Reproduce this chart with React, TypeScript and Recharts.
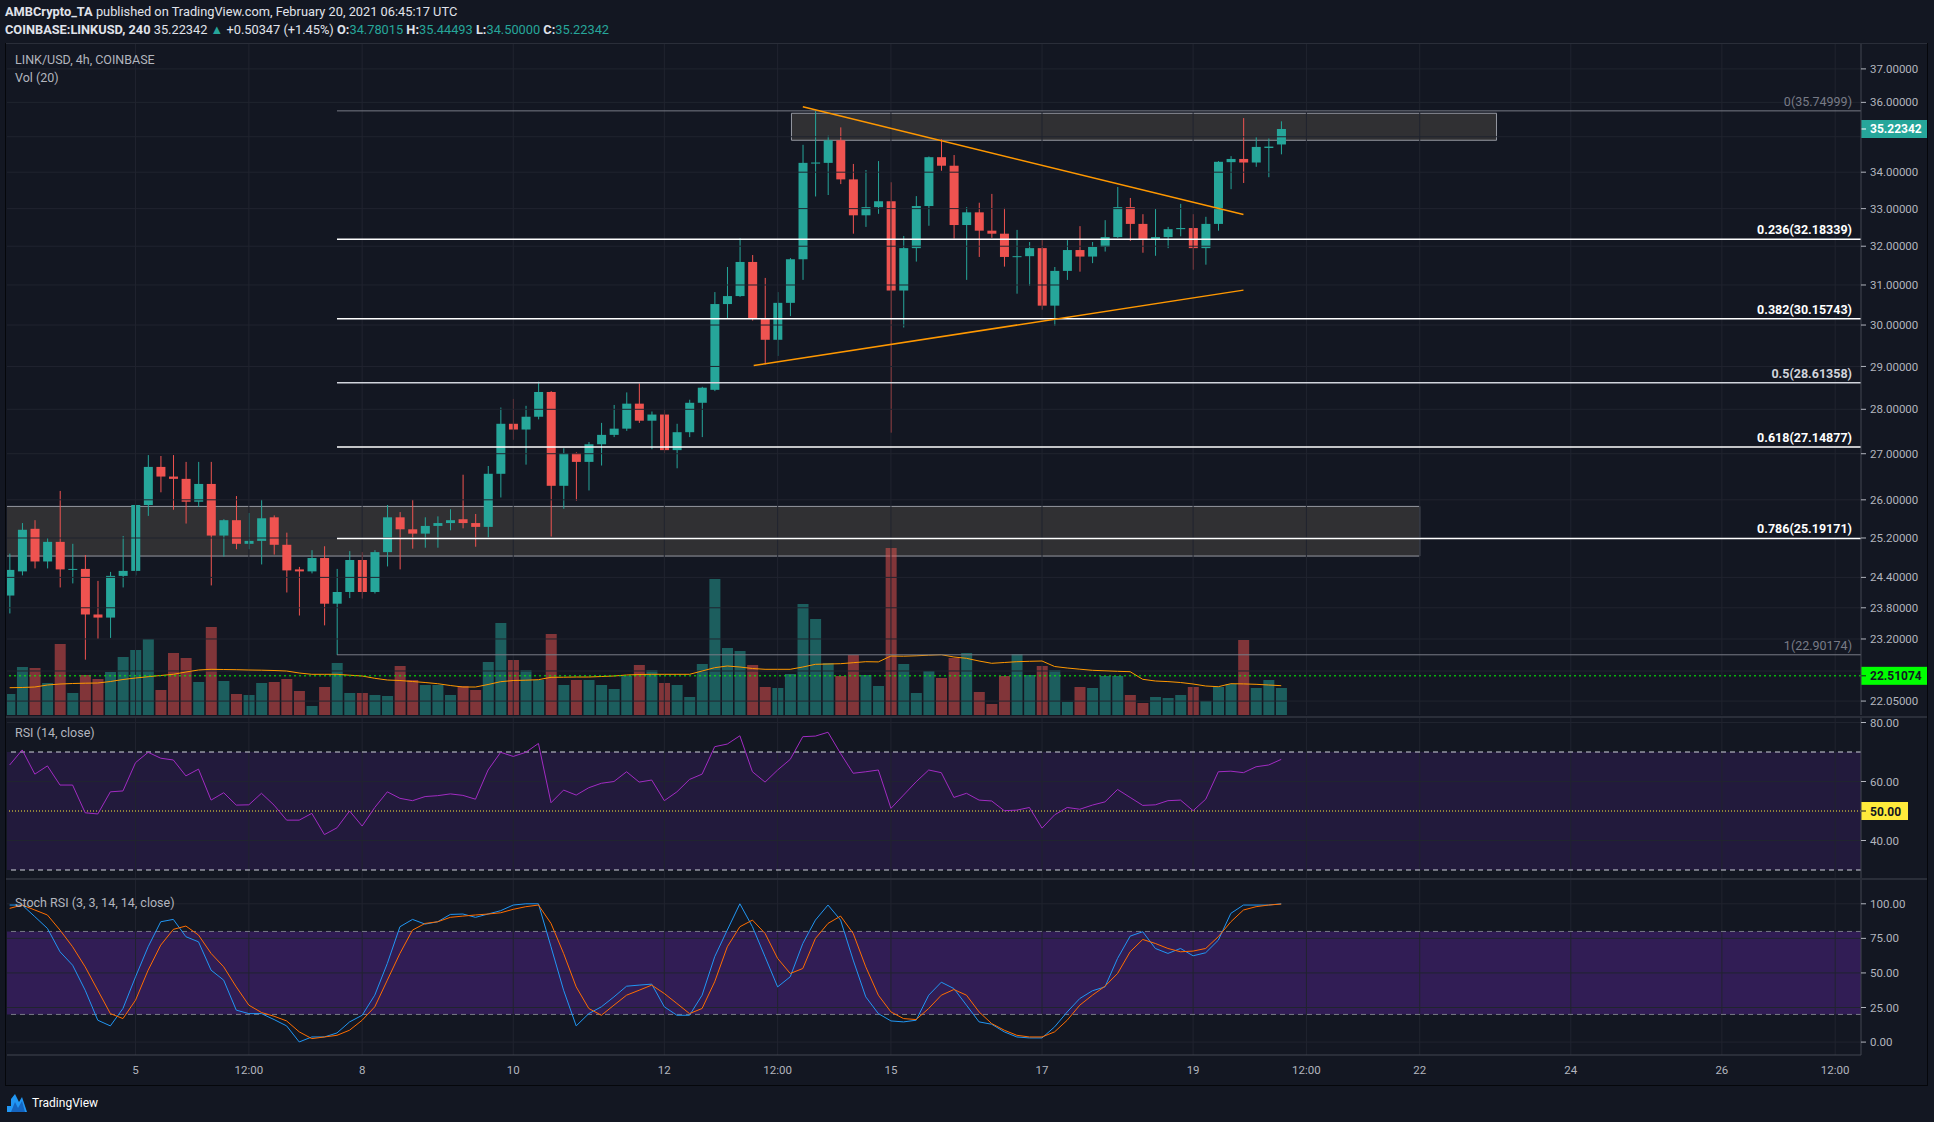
import React from 'react'
import { ComposedChart, Bar, Line, XAxis, YAxis, ReferenceLine, ReferenceArea, Cell } from 'recharts'

// LINK/USD 4h candles, Coinbase, Feb 3 08:00 -> Feb 20 04:00 UTC (index 0..101)
const opens = [24.04, 24.52, 25.39, 24.72, 25.12, 24.55, 24.57, 23.67, 23.61, 24.43, 24.53, 25.89, 26.71, 26.5, 26.45, 25.96, 26.34, 25.25, 25.57, 25.08, 25.14, 25.63, 25.06, 24.56, 24.52, 24.79, 23.88, 24.11, 24.75, 24.11, 24.91, 25.63, 25.38, 25.29, 25.45, 25.51, 25.59, 25.51, 25.43, 26.56, 27.67, 27.54, 27.83, 28.4, 26.3, 27.01, 26.82, 27.21, 27.42, 27.56, 28.13, 27.74, 27.88, 27.08, 27.48, 28.15, 28.45, 30.52, 30.72, 31.59, 30.15, 29.64, 30.55, 31.66, 34.24, 34.26, 34.9, 33.8, 32.82, 33.04, 33.2, 30.86, 31.95, 33.07, 34.42, 34.18, 32.56, 32.9, 32.41, 32.33, 31.72, 31.74, 31.95, 30.48, 31.36, 31.9, 31.73, 31.98, 32.24, 33.04, 32.59, 32.19, 32.24, 32.45, 32.48, 31.95, 32.59, 34.28, 34.37, 34.27, 34.68, 34.78015]
const highs = [24.88, 25.51, 25.57, 25.2, 26.19, 25.08, 24.85, 24.33, 24.51, 25.24, 25.89, 26.97, 26.95, 26.97, 26.82, 26.82, 26.82, 25.59, 26.08, 25.72, 26.0, 25.67, 25.31, 24.61, 24.95, 25.03, 24.57, 24.93, 24.91, 24.95, 25.89, 25.74, 26.0, 25.63, 25.65, 25.8, 26.54, 25.7, 26.73, 28.04, 28.24, 28.08, 28.64, 28.42, 27.12, 27.03, 27.26, 27.69, 28.1, 28.39, 28.6, 27.95, 28.01, 27.67, 28.22, 28.52, 30.82, 31.46, 32.21, 31.77, 31.18, 30.82, 31.69, 34.77, 35.75, 35.03, 35.27, 34.23, 34.06, 34.31, 33.72, 32.27, 33.34, 34.44, 34.93, 34.48, 33.04, 33.16, 33.4, 33.02, 32.43, 32.11, 32.16, 31.46, 32.16, 32.53, 32.11, 32.69, 33.59, 33.29, 32.85, 32.99, 32.51, 33.13, 32.85, 32.78, 34.31, 34.45, 35.54, 34.99, 34.95, 35.44493]
const lows = [23.69, 24.44, 24.58, 24.58, 24.2, 24.28, 22.81, 23.2, 23.22, 24.2, 24.44, 25.66, 26.16, 25.79, 25.5, 25.85, 24.24, 24.82, 24.97, 24.97, 24.66, 24.86, 24.1, 23.65, 24.48, 23.46, 22.9, 23.99, 23.98, 24.08, 24.62, 24.56, 24.98, 25.0, 25.0, 25.36, 25.4, 25.02, 25.21, 26.05, 27.31, 26.76, 27.77, 25.23, 25.81, 25.98, 26.2, 26.74, 27.37, 27.51, 27.69, 27.1, 27.01, 26.68, 27.37, 27.37, 28.42, 30.15, 30.7, 30.11, 29.05, 29.25, 30.22, 31.13, 33.33, 33.37, 33.67, 32.33, 32.51, 32.86, 27.47, 29.94, 31.6, 32.54, 34.04, 32.2, 31.13, 31.72, 32.22, 31.47, 30.78, 30.98, 30.38, 29.98, 31.13, 31.34, 31.56, 31.86, 32.22, 32.14, 31.83, 31.75, 31.95, 32.26, 31.39, 31.52, 32.41, 33.53, 33.7, 34.15, 33.86, 34.5]
const closes = [24.55, 25.37, 24.72, 25.12, 24.56, 24.57, 23.67, 23.61, 24.43, 24.53, 25.89, 26.71, 26.5, 26.45, 25.96, 26.34, 25.25, 25.57, 25.08, 25.14, 25.61, 25.06, 24.54, 24.52, 24.79, 23.88, 24.11, 24.75, 24.11, 24.91, 25.63, 25.38, 25.29, 25.45, 25.51, 25.57, 25.51, 25.43, 26.56, 27.67, 27.54, 27.83, 28.4, 26.3, 27.01, 26.82, 27.21, 27.42, 27.56, 28.13, 27.74, 27.88, 27.08, 27.48, 28.15, 28.5, 30.52, 30.72, 31.59, 30.15, 29.64, 30.55, 31.66, 34.26, 34.27, 34.9, 33.8, 32.82, 33.04, 33.2, 30.86, 31.95, 33.07, 34.42, 34.18, 32.56, 32.9, 32.41, 32.33, 31.72, 31.74, 31.95, 30.48, 31.36, 31.9, 31.73, 31.98, 32.24, 33.04, 32.59, 32.19, 32.24, 32.45, 32.48, 31.95, 32.59, 34.29, 34.37, 34.27, 34.71, 34.72, 35.22342]
// volume in thousands of LINK and its 20-bar average
const volumes = [210, 480, 470, 320, 710, 220, 400, 360, 430, 580, 650, 760, 250, 620, 570, 330, 880, 340, 210, 200, 320, 330, 360, 240, 90, 280, 520, 220, 220, 200, 190, 490, 350, 300, 300, 200, 290, 250, 530, 920, 550, 450, 350, 810, 300, 350, 350, 300, 260, 390, 500, 450, 320, 300, 180, 510, 1360, 670, 640, 500, 280, 270, 410, 1110, 960, 520, 390, 600, 400, 290, 1670, 510, 220, 440, 370, 570, 620, 230, 110, 390, 610, 400, 490, 450, 130, 280, 270, 390, 390, 200, 120, 180, 170, 200, 280, 140, 280, 310, 750, 270, 350, 270]
const volumeMa = [273, 275, 280, 300, 310, 315, 318, 320, 335, 355, 370, 383, 395, 407, 430, 450, 457, 455, 453, 450, 448, 445, 440, 420, 407, 407, 407, 398, 390, 367, 350, 345, 335, 325, 313, 295, 280, 280, 305, 333, 345, 348, 353, 377, 378, 380, 380, 385, 390, 400, 405, 407, 407, 407, 407, 440, 473, 490, 480, 465, 457, 457, 457, 480, 507, 510, 513, 523, 533, 531, 590, 588, 592, 598, 603, 580, 567, 540, 517, 525, 533, 537, 540, 485, 470, 458, 447, 442, 437, 433, 357, 340, 334, 325, 310, 290, 283, 313, 311, 307, 300, 293]
const rsi = [65.6, 70.7, 62.5, 65.3, 58.8, 58.8, 49.4, 49.0, 56.5, 56.8, 66.4, 69.9, 67.9, 67.3, 61.9, 64.2, 53.7, 56.2, 52.0, 52.1, 56.0, 52.0, 46.9, 46.9, 49.2, 42.0, 44.3, 50.0, 44.9, 51.2, 56.5, 54.3, 53.5, 54.9, 55.2, 55.8, 55.3, 54.0, 63.9, 69.9, 68.5, 69.9, 72.9, 52.8, 57.1, 55.4, 57.9, 59.4, 60.0, 63.3, 59.8, 60.5, 53.5, 56.5, 60.7, 62.5, 71.8, 72.7, 75.5, 63.3, 59.8, 63.9, 67.5, 75.2, 75.4, 76.7, 69.5, 62.8, 63.3, 63.9, 50.9, 55.4, 59.9, 63.9, 63.0, 54.6, 56.0, 53.7, 53.4, 50.1, 50.3, 51.2, 44.2, 48.7, 51.2, 50.6, 52.0, 53.1, 57.3, 54.6, 51.9, 52.1, 53.5, 53.7, 50.1, 54.0, 63.3, 63.5, 63.0, 65.0, 65.6, 67.5]
const stochK = [99.1, 99.1, 90.7, 82.2, 65.3, 55.6, 37.5, 15.8, 11.7, 24.3, 47.2, 68.9, 87.0, 88.7, 76.2, 72.5, 52.0, 44.8, 23.1, 20.6, 20.6, 16.3, 11.7, 0.1, 3.7, 3.7, 6.6, 14.6, 19.4, 33.9, 56.9, 83.4, 88.7, 85.3, 87.0, 92.3, 92.6, 90.2, 92.6, 95.0, 99.1, 100, 100, 68.9, 37.5, 11.7, 20.6, 25.5, 32.7, 40.4, 41.2, 41.9, 25.5, 19.4, 19.4, 33.9, 61.7, 81.0, 100, 83.4, 61.7, 39.9, 47.2, 71.3, 88.2, 99.1, 88.2, 59.3, 32.7, 20.6, 15.3, 14.6, 15.8, 33.9, 43.3, 38.7, 26.7, 14.6, 12.9, 7.4, 3.7, 3.0, 3.0, 11.0, 21.8, 31.5, 37.1, 39.9, 60.5, 76.6, 79.8, 67.7, 64.1, 67.7, 62.4, 64.6, 73.7, 93.1, 99.1, 99.1, 99.1, 100]
const stochD = [96.7, 99.1, 95.5, 91.9, 81.0, 68.9, 54.4, 37.5, 20.6, 17.0, 30.3, 52.0, 70.1, 81.5, 83.9, 77.4, 64.1, 54.4, 39.9, 26.7, 21.4, 18.7, 15.3, 7.4, 2.5, 3.7, 4.9, 8.6, 15.8, 25.5, 44.8, 64.1, 81.0, 85.8, 87.0, 90.2, 91.1, 91.9, 92.6, 93.5, 96.0, 97.9, 99.1, 85.8, 64.1, 39.9, 24.3, 19.4, 26.7, 33.9, 37.5, 41.2, 35.1, 27.9, 20.6, 24.3, 43.6, 68.9, 83.4, 88.2, 78.6, 60.5, 49.6, 53.2, 74.9, 85.8, 91.1, 78.6, 54.4, 33.9, 21.8, 17.0, 16.3, 24.3, 33.9, 38.0, 33.9, 21.8, 13.4, 8.6, 4.9, 3.7, 3.7, 7.4, 15.8, 26.7, 33.9, 40.4, 49.6, 65.3, 74.2, 71.3, 67.7, 65.3, 65.8, 67.7, 76.2, 87.0, 95.5, 97.9, 99.1, 99.8]

// time axis (bar index -> label)
const timeTicks = [10, 19, 28, 40, 52, 61, 70, 82, 94, 103, 112, 124, 136, 145]
const timeLabels = ['5', '12:00', '8', '10', '12', '12:00', '15', '17', '19', '12:00', '22', '24', '26', '12:00']
// grid levels; 35 and 22.6 sit under the price tags, so they get no label
const priceGrid = [37, 36, 35, 34, 33, 32, 31, 30, 29, 28, 27, 26, 25.2, 24.4, 23.8, 23.2, 22.6, 22.05]
const priceTicks = [37, 36, 34, 33, 32, 31, 30, 29, 28, 27, 26, 25.2, 24.4, 23.8, 23.2, 22.05]
const rsiTicks = [80, 60, 40]
const stochTicks = [100, 75, 50, 25, 0]

// fib retracement drawn from the Feb 7 low (bar 26)
const fibRatios = ['0', '0.236', '0.382', '0.5', '0.618', '0.786', '1']
const fibPrices = [35.74999, 32.18339, 30.15743, 28.61358, 27.14877, 25.19171, 22.90174]
const fibStart = 26
// triangle trend lines [x1, y1, x2, y2] in bar index / price
const upperTrend = [63.0, 35.87, 98.0, 32.84]
const lowerTrend = [59.1, 29.02, 98.0, 30.87]
// supply / demand zones [x1, x2, yLow, yHigh]
const topZone = [62.1, 118.1, 34.9, 35.68]
const bottomZone = [-3, 112, 24.83, 25.86]
const lastPrice = 35.22342
const greenLine = 22.51074

const W = 1934
const BG = '#131722'
const UP = '#26a69a'
const DOWN = '#ef5350'
const GRID = '#20242f'
const AXIS = '#434651'
const TXT = '#b2b5be'
const FONT = 'Roboto, "Liberation Sans", sans-serif'
const X_MIN = -0.21
const X_MAX = 147.05

const rows = opens.map((o, i) => ({
  i,
  open: o,
  high: highs[i],
  low: lows[i],
  close: closes[i],
  range: [lows[i], highs[i]],
  vol: volumes[i],
  volMa: volumeMa[i],
  rsi: rsi[i],
  k: stochK[i],
  d: stochD[i],
}))

function Candle(props: any) {
  const { x, y, width, height, payload } = props
  if (x == null || payload == null) return null
  const top = Math.min(y, y + height)
  const h = Math.abs(height)
  const lh = Math.log(payload.high)
  const ll = Math.log(payload.low)
  const toY = (p: number) => (lh === ll ? top : top + ((lh - Math.log(p)) / (lh - ll)) * h)
  const up = payload.close >= payload.open
  const color = up ? UP : DOWN
  const cx = x + width / 2
  const bTop = toY(Math.max(payload.open, payload.close))
  const bBot = toY(Math.min(payload.open, payload.close))
  return (
    <g>
      <line x1={cx} x2={cx} y1={top} y2={top + h} stroke={color} strokeWidth={1} />
      <rect x={cx - 4.5} y={bTop} width={9} height={Math.max(bBot - bTop, 1)} fill={color} />
    </g>
  )
}

function FibLabel(props: any) {
  const vb = props.viewBox
  if (!vb) return null
  return (
    <text x={vb.x + vb.width - 9} y={vb.y - 5} textAnchor="end" fill={props.color} fontSize={12.5}
      fontWeight={props.bold ? 700 : 400} fontFamily={FONT}>
      {props.text}
    </text>
  )
}

function PriceTag(props: any) {
  const vb = props.viewBox
  if (!vb) return null
  const x = vb.x + vb.width
  return (
    <g>
      <rect x={x} y={vb.y - 9} width={props.w} height={18} fill={props.bg} />
      <line x1={x} x2={x + 5} y1={vb.y} y2={vb.y} stroke={props.color} />
      <text x={x + 9} y={vb.y + 4.5} fill={props.color} fontSize={12} fontWeight={700} fontFamily={FONT}>
        {props.text}
      </text>
    </g>
  )
}

const axisTick = { fill: TXT, fontSize: 11.5, fontFamily: FONT }

function MainPane() {
  return (
    <ComposedChart width={W} height={672} data={rows} margin={{ top: 0, right: 0, bottom: 0, left: 7 }}>
      <XAxis xAxisId="px" dataKey="i" type="number" domain={[X_MIN, X_MAX]} allowDataOverflow hide />
      <XAxis xAxisId="vx" dataKey="i" type="number" domain={[X_MIN, X_MAX]} allowDataOverflow hide />
      <YAxis yAxisId="price" orientation="right" scale="log" domain={[21.8, 37.793]} allowDataOverflow
        ticks={priceTicks} interval={0} width={73} tick={axisTick} tickSize={5} tickMargin={4}
        tickLine={{ stroke: TXT }} axisLine={{ stroke: AXIS }} tickFormatter={(v: number) => v.toFixed(5)} />
      <YAxis yAxisId="vol" hide domain={[0, 6720]} />

      {priceGrid.map((t) => (
        <ReferenceLine key={'h' + t} xAxisId="px" yAxisId="price" y={t} stroke={GRID} />
      ))}
      {timeTicks.map((t) => (
        <ReferenceLine key={'v' + t} xAxisId="px" yAxisId="price" x={t} stroke={GRID} />
      ))}

      <ReferenceArea xAxisId="px" yAxisId="price" x1={bottomZone[0]} x2={bottomZone[1]} y1={bottomZone[2]} y2={bottomZone[3]}
        fill="#75695d" fillOpacity={0.3} stroke="#9598a1" ifOverflow="hidden" />
      <ReferenceArea xAxisId="px" yAxisId="price" x1={topZone[0]} x2={topZone[1]} y1={topZone[2]} y2={topZone[3]}
        fill="#75695d" fillOpacity={0.3} stroke="#9598a1" ifOverflow="hidden" />

      <Bar xAxisId="vx" yAxisId="vol" dataKey="vol" barSize={11} isAnimationActive={false}>
        {rows.map((r) => (
          <Cell key={r.i} fill={r.close >= r.open ? UP : DOWN} fillOpacity={0.5} />
        ))}
      </Bar>
      <Line xAxisId="vx" yAxisId="vol" dataKey="volMa" stroke="#ff9800" strokeWidth={1} dot={false} isAnimationActive={false} />

      <ReferenceLine xAxisId="px" yAxisId="price" y={greenLine} stroke="#00ff00" strokeDasharray="2 3"
        label={<PriceTag text={greenLine.toFixed(5)} bg="#00ff00" color="#131722" w={66} />} />

      {fibPrices.map((p, k) => {
        const edge = k === 0 || k === fibPrices.length - 1
        const half = fibRatios[k] === '0.5'
        const color = edge ? '#787b86' : half ? '#d1d4dc' : '#ffffff'
        return (
          <ReferenceLine key={'f' + k} xAxisId="px" yAxisId="price" stroke={color} strokeWidth={edge ? 1 : 1.5}
            segment={[{ x: fibStart, y: p }, { x: X_MAX, y: p }]}
            label={<FibLabel text={`${fibRatios[k]}(${p.toFixed(5)})`} color={color} bold={!edge} />} />
        )
      })}

      <Bar xAxisId="px" yAxisId="price" dataKey="range" barSize={9} isAnimationActive={false}
        shape={(p: any) => <Candle {...p} />} />

      <ReferenceLine xAxisId="px" yAxisId="price" stroke="#ff9800" strokeWidth={1.5}
        segment={[{ x: upperTrend[0], y: upperTrend[1] }, { x: upperTrend[2], y: upperTrend[3] }]} />
      <ReferenceLine xAxisId="px" yAxisId="price" stroke="#ff9800" strokeWidth={1.5}
        segment={[{ x: lowerTrend[0], y: lowerTrend[1] }, { x: lowerTrend[2], y: lowerTrend[3] }]} />

      <ReferenceLine xAxisId="px" yAxisId="price" y={lastPrice} stroke="none"
        label={<PriceTag text={lastPrice.toFixed(5)} bg={UP} color="#ffffff" w={66} />} />
    </ComposedChart>
  )
}

function RsiPane() {
  return (
    <ComposedChart width={W} height={170} data={rows} margin={{ top: 10, right: 0, bottom: 0, left: 7 }}>
      <XAxis dataKey="i" type="number" domain={[X_MIN, X_MAX]} allowDataOverflow hide />
      <YAxis orientation="right" domain={[27.29, 81.53]} allowDataOverflow ticks={rsiTicks} interval={0} width={73}
        tick={axisTick} tickSize={5} tickMargin={4} tickLine={{ stroke: TXT }} axisLine={{ stroke: AXIS }}
        tickFormatter={(v: number) => v.toFixed(2)} />
      {rsiTicks.map((t) => (
        <ReferenceLine key={'h' + t} y={t} stroke={GRID} />
      ))}
      {timeTicks.map((t) => (
        <ReferenceLine key={'v' + t} x={t} stroke={GRID} />
      ))}
      <ReferenceArea y1={30} y2={70} fill="#9632ff" fillOpacity={0.12} stroke="none" />
      <ReferenceLine y={70} stroke="#d1d4dc" strokeDasharray="5 4" />
      <ReferenceLine y={30} stroke="#d1d4dc" strokeDasharray="5 4" />
      <ReferenceLine y={50} stroke="#ffeb3b" strokeDasharray="1 2"
        label={<PriceTag text="50.00" bg="#ffeb3b" color="#131722" w={47} />} />
      <Line dataKey="rsi" stroke="#a12bc2" strokeWidth={1} dot={false} isAnimationActive={false} />
    </ComposedChart>
  )
}

function StochPane() {
  return (
    <ComposedChart width={W} height={205} data={rows} margin={{ top: 0, right: 0, bottom: 0, left: 7 }}>
      <XAxis dataKey="i" type="number" domain={[X_MIN, X_MAX]} allowDataOverflow ticks={timeTicks} interval={0}
        height={30} tickLine={false} axisLine={{ stroke: AXIS }} tick={axisTick} tickMargin={5}
        tickFormatter={(v: number) => timeLabels[timeTicks.indexOf(v)]} />
      <YAxis orientation="right" domain={[-9.34, 117.2]} allowDataOverflow ticks={stochTicks} interval={0} width={73}
        tick={axisTick} tickSize={5} tickMargin={4} tickLine={{ stroke: TXT }} axisLine={{ stroke: AXIS }}
        tickFormatter={(v: number) => v.toFixed(2)} />
      {stochTicks.map((t) => (
        <ReferenceLine key={'h' + t} y={t} stroke={GRID} />
      ))}
      {timeTicks.map((t) => (
        <ReferenceLine key={'v' + t} x={t} stroke={GRID} />
      ))}
      <ReferenceArea y1={20} y2={80} fill="#9632ff" fillOpacity={0.23} stroke="none" />
      <ReferenceLine y={80} stroke="#787b86" strokeDasharray="5 4" />
      <ReferenceLine y={20} stroke="#787b86" strokeDasharray="5 4" />
      <Line dataKey="k" stroke="#2196f3" strokeWidth={1} dot={false} isAnimationActive={false} />
      <Line dataKey="d" stroke="#ff6d00" strokeWidth={1} dot={false} isAnimationActive={false} />
    </ComposedChart>
  )
}

const abs = (top: number) => ({ position: 'absolute' as const, left: 0, top })

export default function App() {
  const teal = { color: UP }
  return (
    <div style={{ position: 'absolute', left: 0, top: 0, width: W, height: 1122, background: BG, overflow: 'hidden', fontFamily: FONT }}>
      <div style={{ position: 'absolute', left: 5, top: 4, color: '#e0e3eb', fontSize: 12.8, whiteSpace: 'nowrap' }}>
        <b>AMBCrypto_TA</b> published on TradingView.com, February 20, 2021 06:45:17 UTC
      </div>
      <div style={{ position: 'absolute', left: 5, top: 22, color: '#e0e3eb', fontSize: 12.8, whiteSpace: 'nowrap' }}>
        <b>COINBASE:LINKUSD, 240</b> 35.22342 <span style={teal}>▲</span> +0.50347 (+1.45%) <b>O:</b>
        <span style={teal}>34.78015</span> <b>H:</b><span style={teal}>35.44493</span> <b>L:</b>
        <span style={teal}>34.50000</span> <b>C:</b><span style={teal}>35.22342</span>
      </div>

      <div style={abs(43)}><MainPane /></div>
      <div style={abs(708)}><RsiPane /></div>
      <div style={abs(880)}><StochPane /></div>

      <div style={{ position: 'absolute', left: 15, top: 52, color: TXT, fontSize: 12.5 }}>LINK/USD, 4h, COINBASE</div>
      <div style={{ position: 'absolute', left: 15, top: 70, color: TXT, fontSize: 12.5 }}>Vol (20)</div>
      <div style={{ position: 'absolute', left: 15, top: 725, color: TXT, fontSize: 12.5 }}>RSI (14, close)</div>
      <div style={{ position: 'absolute', left: 15, top: 895, color: TXT, fontSize: 12.5 }}>Stoch RSI (3, 3, 14, 14, close)</div>

      {/* pane separators and frame */}
      <div style={{ position: 'absolute', left: 6, top: 43, width: 1921, height: 1, background: '#2a2e39' }} />
      <div style={{ position: 'absolute', left: 6, top: 716, width: 1921, height: 2, background: '#2a2e39' }} />
      <div style={{ position: 'absolute', left: 6, top: 878, width: 1921, height: 2, background: '#2a2e39' }} />
      <div style={{ position: 'absolute', left: 5, top: 43, width: 1, height: 1042, background: '#05070b' }} />
      <div style={{ position: 'absolute', left: 1927, top: 43, width: 1, height: 1042, background: '#05070b' }} />
      <div style={{ position: 'absolute', left: 5, top: 1085, width: 1923, height: 1, background: '#05070b' }} />

      <div style={{ position: 'absolute', left: 6, top: 1093, display: 'flex', alignItems: 'center', gap: 4 }}>
        <svg width={22} height={20} viewBox="0 0 22 20">
          <path d="M1 19 L1 13 L5 13 L5 6 L9 1 L13 9 L16 4 L21 19 Z" fill="#2196f3" />
          <path d="M5 19 L9 9 L12 15 L16 8 L19 19 Z" fill="#1565c0" />
        </svg>
        <span style={{ color: '#ffffff', fontSize: 12 }}>TradingView</span>
      </div>
    </div>
  )
}
